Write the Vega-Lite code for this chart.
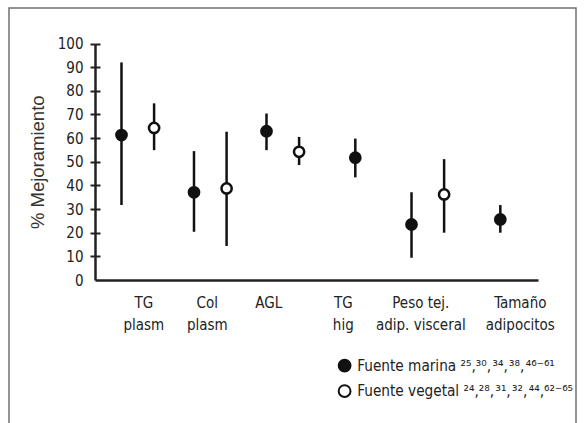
{
  "$schema": "https://vega.github.io/schema/vega-lite/v6.json",
  "width": 567,
  "height": 418,
  "autosize": {"type": "none"},
  "padding": {"left": 9, "top": 8, "right": 12, "bottom": -3},
  "background": "white",
  "config": {"view": {"stroke": "#707070", "strokeWidth": 1.5}, "font": "'DejaVu Sans Condensed', 'DejaVu Sans', Roboto"},
  "data": {"values": [
    {"categoria": "TG plasm", "fuente": "marina", "media": 61.3, "bajo": 31.7, "alto": 92.0},
    {"categoria": "TG plasm", "fuente": "vegetal", "media": 64.3, "bajo": 54.9, "alto": 74.7},
    {"categoria": "Col plasm", "fuente": "marina", "media": 37.1, "bajo": 20.4, "alto": 54.5},
    {"categoria": "Col plasm", "fuente": "vegetal", "media": 38.7, "bajo": 14.4, "alto": 62.7},
    {"categoria": "AGL", "fuente": "marina", "media": 62.9, "bajo": 54.9, "alto": 70.4},
    {"categoria": "AGL", "fuente": "vegetal", "media": 54.2, "bajo": 48.6, "alto": 60.5},
    {"categoria": "TG hig", "fuente": "marina", "media": 51.7, "bajo": 43.4, "alto": 59.8},
    {"categoria": "Peso tej. adip. visceral", "fuente": "marina", "media": 23.5, "bajo": 9.4, "alto": 37.1},
    {"categoria": "Peso tej. adip. visceral", "fuente": "vegetal", "media": 36.2, "bajo": 20.0, "alto": 51.1},
    {"categoria": "Tamaño adipocitos", "fuente": "marina", "media": 25.6, "bajo": 20.0, "alto": 31.7}
  ]},
  "transform": [{"joinaggregate": [{"op": "count", "as": "n"}], "groupby": ["categoria"]}],
  "encoding": {
    "x": {
      "field": "categoria",
      "type": "nominal",
      "sort": ["TG plasm", "Col plasm", "AGL", "TG hig", "Peso tej. adip. visceral", "Tamaño adipocitos"],
      "scale": {"range": [86, 529], "paddingInner": 0, "paddingOuter": 0.055, "align": 0.82},
      "axis": {
        "orient": "bottom",
        "offset": -146,
        "title": null,
        "ticks": false,
        "tickSize": 0,
        "grid": false,
        "domainColor": "#222",
        "domainWidth": 2.5,
        "labelFont": "'DejaVu Sans Condensed', 'DejaVu Sans', Roboto",
        "labelFontSize": 15,
        "labelColor": "#222",
        "labelPadding": 15,
        "labelLineHeight": 22,
        "labelAngle": 0,
        "labelOverlap": false,
        "labelOffset": {"condition": [
          {"test": "datum.value == 'TG plasm'", "value": 6},
          {"test": "datum.value == 'Col plasm'", "value": -3},
          {"test": "datum.value == 'AGL'", "value": -14},
          {"test": "datum.value == 'TG hig'", "value": -12},
          {"test": "datum.value == 'Peso tej. adip. visceral'", "value": -7},
          {"test": "datum.value == 'Tamaño adipocitos'", "value": 20}
        ], "value": 0},
        "labelExpr": "datum.value == 'Peso tej. adip. visceral' ? ['Peso tej.', 'adip. visceral'] : split(datum.value, ' ')"
      }
    }
  },
  "layer": [
    {
      "transform": [{"filter": "datum.n > 1"}],
      "mark": {"type": "rule", "strokeWidth": 2.5, "color": "#111"},
      "encoding": {
        "xOffset": {"field": "fuente", "type": "nominal", "sort": ["marina", "vegetal"], "scale": {"paddingInner": 0, "paddingOuter": 0.112}},
        "y": {
          "field": "bajo",
          "type": "quantitative",
          "scale": {"domain": [0, 100], "range": [272, 35.5], "nice": false, "zero": false},
          "axis": {
            "orient": "left",
            "offset": -86,
            "values": [0, 10, 20, 30, 40, 50, 60, 70, 80, 90, 100],
            "grid": false,
            "tickSize": 5,
            "tickWidth": 2,
            "tickColor": "#222",
            "tickOpacity": {"condition": {"test": "datum.value === 0", "value": 0}, "value": 1},
            "domainColor": "#222",
            "domainWidth": 2.5,
            "labelFont": "'DejaVu Sans Condensed', 'DejaVu Sans', Roboto",
            "labelFontSize": 15,
            "labelColor": "#222",
            "labelPadding": 7,
            "title": "% Mejoramiento",
            "titleFont": "Liberation Sans",
            "titleFontSize": 18.5,
            "titleFontWeight": "normal",
            "titleColor": "#333",
            "titlePadding": 10
          }
        },
        "y2": {"field": "alto"}
      }
    },
    {
      "transform": [{"filter": "datum.n == 1"}],
      "mark": {"type": "rule", "strokeWidth": 2.5, "color": "#111"},
      "encoding": {
        "y": {
          "field": "bajo",
          "type": "quantitative",
          "scale": {"domain": [0, 100], "range": [272, 35.5], "nice": false, "zero": false},
          "axis": {
            "orient": "right",
            "offset": -481,
            "values": [10, 20, 30, 40, 50, 60, 70, 80, 90, 100],
            "grid": false,
            "domain": false,
            "labels": false,
            "tickSize": 5,
            "tickWidth": 2,
            "tickColor": "#222",
            "title": null
          }
        },
        "y2": {"field": "alto"}
      }
    },
    {
      "transform": [{"filter": "datum.n > 1"}],
      "mark": {"type": "point", "shape": "circle", "filled": true, "size": 105, "stroke": "#111", "strokeWidth": 2.5, "opacity": 1},
      "encoding": {
        "xOffset": {"field": "fuente", "type": "nominal", "sort": ["marina", "vegetal"], "scale": {"paddingInner": 0, "paddingOuter": 0.112}},
        "y": {"field": "media", "type": "quantitative", "axis": null},
        "fill": {
          "field": "fuente",
          "type": "nominal",
          "scale": {"domain": ["marina", "vegetal"], "range": ["#111111", "#ffffff"]},
          "legend": {
            "orient": "none",
            "legendX": 328,
            "legendY": 350,
            "title": null,
            "padding": 0,
            "symbolType": "circle",
            "symbolSize": 140,
            "symbolStrokeColor": "#111",
            "symbolStrokeWidth": 2,
            "labelFont": "'DejaVu Sans Condensed', 'DejaVu Sans', Roboto",
            "labelFontSize": 15.2,
            "labelColor": "#222",
            "labelLimit": 400,
            "labelOffset": 5,
            "rowPadding": 4.5,
            "labelExpr": "datum.value == 'marina' ? 'Fuente marina ²⁵,³⁰,\u200a³⁴,\u200a³⁸,\u200a⁴⁶⁻⁶¹' : 'Fuente vegetal ²⁴,²⁸,\u200a³¹,\u200a³²,\u200a⁴⁴,⁶²⁻⁶⁵'"
          }
        }
      }
    },
    {
      "transform": [{"filter": "datum.n == 1"}],
      "mark": {"type": "point", "shape": "circle", "filled": true, "size": 105, "stroke": "#111", "strokeWidth": 2.5, "opacity": 1},
      "encoding": {
        "y": {"field": "media", "type": "quantitative", "axis": null},
        "fill": {"field": "fuente", "type": "nominal"}
      }
    }
  ],
  "resolve": {"axis": {"y": "independent"}}
}
